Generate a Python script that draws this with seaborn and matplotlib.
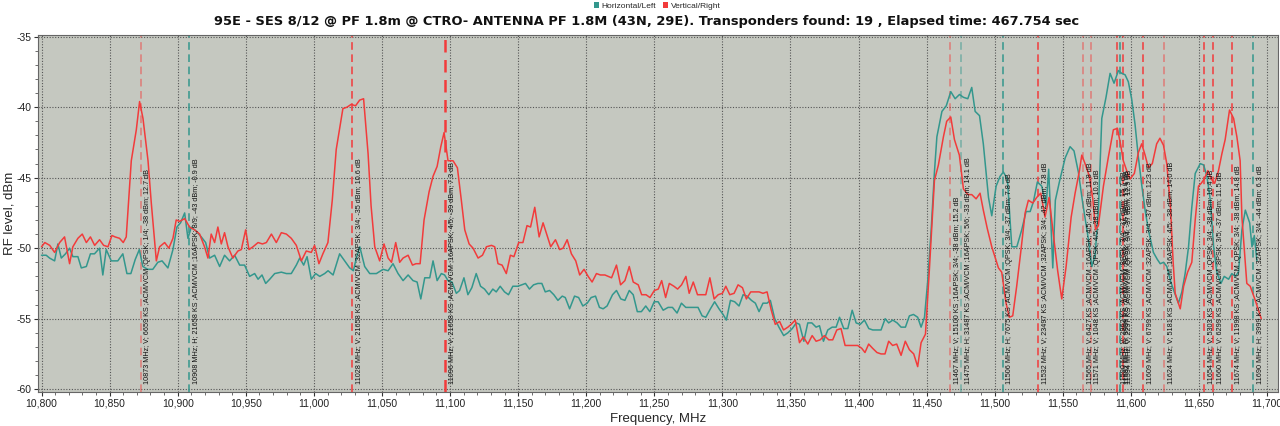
import numpy as np
import pandas as pd
import matplotlib
matplotlib.use("Agg")
import matplotlib.pyplot as plt
import seaborn as sns
from matplotlib.patches import Patch
from matplotlib.ticker import MultipleLocator, FuncFormatter

# Spektrum Vertical/Right (MHz, dBm)
freq_v = [10800, 10802.4, 10806, 10809.6, 10813.3, 10816.9, 10820.6, 10823, 10826.7, 10829.9,
          10832.9, 10835.9, 10839, 10842.6, 10845.6, 10848.8, 10851.7, 10854, 10857.3, 10860,
          10862.2, 10865.9, 10869.6, 10872, 10874.5, 10878.2, 10880.6, 10884.3, 10886.7, 10890.4,
          10893.5, 10896.5, 10898.9, 10901.4, 10905.1, 10908.7, 10912.4, 10916.1, 10919.7, 10922.2,
          10924.6, 10927.1, 10929.5, 10932, 10934.4, 10936.9, 10940.5, 10944.2, 10946.7, 10949.9,
          10952.3, 10955.3, 10959, 10962.2, 10965.1, 10968.8, 10972.4, 10976.1, 10979.8, 10983.4,
          10987.1, 10990.8, 10994.4, 10998.1, 11000.5, 11003.7, 11006.6, 11010.3, 11013.5, 11016.4,
          11021.3, 11024.3, 11027.4, 11030.6, 11033.6, 11036.5, 11039.8, 11042, 11044.7, 11048.3,
          11051.5, 11054.5, 11057, 11060.1, 11063, 11065.5, 11069.2, 11072.4, 11075, 11078,
          11080.9, 11084.6, 11087.5, 11090.5, 11093.2, 11095.6, 11098.5, 11102.2, 11105.4, 11108.4,
          11110.8, 11114, 11116.9, 11120.6, 11123.8, 11126.7, 11130.4, 11132.8, 11135.2, 11138.2,
          11141.3, 11144.3, 11146.9, 11150.4, 11153.5, 11156.5, 11159.1, 11162.2, 11165.4, 11168.3,
          11171.3, 11173.9, 11177.4, 11180.5, 11183, 11186, 11189.1, 11192.3, 11195.2, 11198.4,
          11201.4, 11204.3, 11207.5, 11210.4, 11213.7, 11218.6, 11222.2, 11225.2, 11228.4, 11231.6,
          11234.5, 11238.2, 11240.7, 11243.9, 11246.8, 11250, 11252.9, 11255.4, 11258.3, 11261,
          11264.4, 11267.1, 11270, 11273.2, 11275.6, 11278.6, 11281.7, 11284.7, 11287.8, 11290.8,
          11293.9, 11296.9, 11300, 11302.5, 11305.4, 11308.6, 11311.5, 11314.7, 11317.6, 11320.8,
          11323.7, 11326.9, 11329.8, 11332.8, 11335.9, 11338.8, 11342, 11344.9, 11348.1, 11350.5,
          11353.5, 11356.6, 11359.5, 11362.7, 11365.9, 11368.8, 11371.8, 11374.9, 11378.1, 11381,
          11384, 11387.1, 11390.1, 11393.2, 11396.4, 11399.3, 11402.3, 11404.7, 11407.4, 11410.3,
          11413.5, 11416.5, 11419.4, 11422.1, 11425, 11428, 11431.2, 11434.3, 11437.3, 11440.5,
          11443.4, 11445.9, 11449.1, 11452, 11455.7, 11458.6, 11462.3, 11464.7, 11467.7, 11470.4,
          11474, 11477, 11480.2, 11483.1, 11486.3, 11489.2, 11491.6, 11494.5, 11497.8, 11502.7,
          11505.1, 11508.3, 11510.7, 11513.2, 11516.1, 11519.3, 11522.3, 11524.7, 11527.9, 11530.8,
          11533.8, 11536.9, 11539.9, 11543, 11546.2, 11549.2, 11552.4, 11556.1, 11559, 11562.2,
          11563.9, 11566.3, 11569.5, 11572, 11574, 11576.1, 11579.8, 11583.5, 11587.1, 11590.1,
          11592.5, 11594.4, 11596.9, 11599.3, 11602.5, 11605.5, 11607.9, 11610.4, 11612.8, 11615.7,
          11618.9, 11621.3, 11623.9, 11626.3, 11629, 11631, 11632.5, 11636.2, 11638.7, 11641.6,
          11644.7, 11647.2, 11649.6, 11651.6, 11653.8, 11656.5, 11659, 11661.5, 11664.3, 11666.8,
          11669.2, 11672.4, 11675.4, 11677.8, 11680.2, 11681.5, 11685.1, 11687.6, 11691.3, 11693.7,
          11695.7]
level_v = [-49.9, -49.6, -49.8, -50.3, -49.6, -49.2, -51.1, -49.9, -49.3, -49.0,
           -49.6, -49.2, -49.8, -49.4, -49.8, -49.9, -49.1, -49.2, -49.3, -49.6,
           -49.2, -43.8, -41.6, -39.6, -40.8, -43.8, -46.8, -50.9, -49.9, -49.6,
           -50.0, -49.3, -48.0, -48.1, -47.9, -48.5, -48.7, -49.0, -49.9, -50.7,
           -49.0, -49.6, -48.5, -49.7, -48.9, -49.9, -50.7, -50.2, -50.1, -48.7,
           -50.1, -49.9, -49.6, -49.7, -49.6, -49.0, -49.6, -48.9, -49.0, -49.3,
           -49.8, -50.9, -50.2, -50.3, -49.8, -51.1, -50.4, -49.6, -46.6, -43.0,
           -40.1, -40.0, -39.8, -39.9, -39.5, -39.4, -43.3, -47.0, -49.9, -50.9,
           -49.7, -50.7, -51.0, -49.6, -51.0, -50.7, -50.5, -51.2, -51.1, -51.1,
           -48.0, -46.0, -44.9, -44.2, -42.8, -41.8, -43.8, -43.8, -44.3, -46.7,
           -48.7, -49.7, -50.0, -50.7, -50.5, -49.9, -49.8, -49.9, -51.1, -51.2,
           -51.8, -50.5, -50.6, -49.6, -49.6, -48.4, -48.5, -47.1, -49.2, -48.2,
           -49.1, -49.9, -49.4, -50.1, -50.0, -49.4, -50.4, -50.9, -51.9, -51.5,
           -52.0, -52.4, -51.8, -51.9, -51.9, -52.1, -51.2, -52.6, -52.3, -51.3,
           -52.4, -52.6, -53.3, -53.3, -53.5, -53.0, -52.9, -52.3, -53.5, -52.5,
           -52.7, -52.9, -52.6, -52.0, -53.2, -52.4, -53.3, -53.3, -53.3, -52.1,
           -53.6, -53.3, -53.2, -52.7, -53.3, -53.2, -52.6, -52.8, -53.6, -53.1,
           -53.1, -53.1, -53.2, -53.1, -54.4, -55.4, -55.2, -55.8, -55.6, -55.4,
           -55.1, -56.7, -56.3, -56.8, -56.2, -56.6, -56.5, -56.2, -56.5, -56.5,
           -55.8, -55.7, -56.9, -56.9, -56.9, -56.9, -57.1, -57.4, -56.8, -57.1,
           -57.4, -57.5, -57.5, -56.6, -56.9, -56.8, -57.6, -56.6, -57.2, -57.5,
           -58.4, -56.7, -56.1, -51.5, -45.2, -44.1, -42.1, -41.0, -40.7, -42.3,
           -43.4, -45.8, -46.2, -46.2, -46.5, -46.1, -47.3, -48.6, -49.9, -51.4,
           -51.7, -53.9, -54.9, -54.8, -52.7, -50.1, -47.5, -46.6, -46.8, -46.4,
           -46.1, -47.8, -46.4, -49.0, -51.6, -53.6, -51.3, -47.8, -46.1, -44.5,
           -43.4, -44.0, -44.9, -46.5, -48.7, -48.4, -45.6, -43.5, -41.6, -41.5,
           -42.7, -43.8, -44.5, -45.1, -44.7, -43.2, -42.6, -43.4, -44.3, -44.0,
           -42.6, -42.2, -42.7, -44.0, -47.0, -51.0, -53.2, -54.3, -52.7, -51.7,
           -51.0, -48.0, -45.6, -45.4, -45.1, -44.5, -45.1, -45.4, -44.5, -43.3,
           -42.3, -40.2, -40.8, -42.1, -43.8, -47.8, -52.5, -52.7, -53.7, -54.4,
           -55.0]

# Spektrum Horizontal/Left (MHz, dBm)
freq_h = [10800, 10803.4, 10805.9, 10809.6, 10812, 10814.5, 10817.6, 10820.6, 10823, 10826.7,
          10829.2, 10832.9, 10835.9, 10838.9, 10842.6, 10845, 10847.5, 10851.2, 10856, 10859.7,
          10862.7, 10865.6, 10868.8, 10871.8, 10874.4, 10878, 10881.7, 10885.4, 10888.5, 10892.8,
          10896.5, 10899.4, 10902.1, 10905.1, 10907.5, 10910, 10913.6, 10917.3, 10920.5, 10923.4,
          10927.1, 10930.8, 10934.4, 10938.1, 10941.8, 10945.5, 10949.1, 10952.8, 10956.5, 10959,
          10961.9, 10964.6, 10967.6, 10971.2, 10976.1, 10979.8, 10983.4, 10987.1, 10989.6, 10992.5,
          10995, 10998.1, 11001.3, 11004.3, 11007.9, 11010.4, 11014.1, 11018.9, 11022.6, 11026.3,
          11029, 11031.2, 11033.7, 11037.3, 11041, 11045.9, 11050.8, 11054.5, 11058.1, 11061.8,
          11065.5, 11069.2, 11072.8, 11075.8, 11078.5, 11081.4, 11085.1, 11087.5, 11090.5, 11093.6,
          11096, 11098.5, 11101.4, 11104.6, 11107, 11110.2, 11113.1, 11116, 11119.2, 11122.4,
          11125.3, 11128.5, 11131.4, 11133.9, 11136.8, 11140, 11142.9, 11146.1, 11149.8, 11152.7,
          11155.4, 11158.3, 11161.3, 11164.5, 11167.4, 11169.9, 11173.1, 11176.2, 11179.2, 11182.4,
          11184.6, 11187.8, 11191.4, 11194.4, 11197.5, 11200.7, 11203.6, 11206.8, 11209.7, 11212.4,
          11215.3, 11219.3, 11222.2, 11225.4, 11228.4, 11231.6, 11234.5, 11237.5, 11240.5, 11243.7,
          11246.7, 11249.9, 11252.8, 11256.5, 11260.1, 11263.3, 11266.7, 11269.9, 11273.1, 11276,
          11279.2, 11282.1, 11285.1, 11287.8, 11291.2, 11294.3, 11297.5, 11300.5, 11302.9, 11305.9,
          11309, 11312.2, 11315.2, 11318.1, 11321.3, 11324.2, 11326.9, 11329.8, 11332.8, 11335.2,
          11338.4, 11341.5, 11345, 11348.1, 11351.3, 11354.2, 11356.6, 11359.8, 11362.7, 11365.7,
          11368.8, 11371.3, 11374.2, 11377.4, 11380.6, 11383.5, 11386, 11389.1, 11392.1, 11395.3,
          11398.2, 11401.2, 11404.3, 11407.5, 11410.4, 11413.6, 11416.5, 11419.5, 11422.1, 11425.1,
          11428.3, 11431.2, 11434.4, 11437.3, 11440.3, 11443.4, 11445.9, 11448.4, 11450.8, 11453.3,
          11455.7, 11457.5, 11461.2, 11464.4, 11467.7, 11470.9, 11474.1, 11477, 11480.2, 11483.1,
          11485.6, 11488.8, 11491.6, 11495.4, 11497.8, 11501, 11503.9, 11506.3, 11509.3, 11512.5,
          11516.2, 11519.8, 11523, 11526, 11528.4, 11531.3, 11534.5, 11537.7, 11539.6, 11542.6,
          11544.5, 11547.7, 11551.7, 11555.3, 11558.2, 11561.4, 11564.6, 11568.8, 11571.3, 11573.7,
          11576.1, 11578.6, 11581.7, 11584.7, 11587.6, 11590.8, 11593.2, 11595.7, 11598.1, 11600.5,
          11603, 11605.4, 11607.9, 11610.4, 11612.8, 11616.5, 11619.4, 11621.5, 11624, 11626.4,
          11629.3, 11631.8, 11634.9, 11637.4, 11639.8, 11642.3, 11644.7, 11647.2, 11650.9, 11653.4,
          11655.8, 11658.3, 11660.7, 11663.1, 11666.1, 11668.5, 11671.7, 11674.1, 11676.6, 11679,
          11681.5, 11684, 11687.2, 11688.9, 11690.6, 11692.5]
level_h = [-50.5, -50.5, -50.7, -50.9, -49.7, -50.7, -50.4, -50.0, -50.6, -50.6,
           -51.4, -51.3, -50.4, -50.4, -50.0, -51.9, -50.1, -50.9, -50.9, -50.4,
           -51.8, -51.8, -50.8, -50.1, -51.3, -51.5, -51.5, -51.0, -50.9, -51.4,
           -50.1, -48.5, -48.2, -47.5, -49.3, -48.5, -48.8, -49.2, -49.6, -50.7,
           -50.5, -51.3, -50.5, -50.9, -50.5, -51.2, -51.2, -52.0, -51.8, -52.2,
           -51.9, -52.5, -52.2, -51.8, -51.7, -51.8, -51.8, -51.2, -50.7, -51.2,
           -50.6, -52.2, -51.8, -52.0, -51.8, -51.6, -51.9, -50.4, -50.9, -51.4,
           -51.6, -50.7, -49.9, -51.3, -51.8, -51.8, -51.5, -51.6, -51.1, -51.8,
           -52.3, -51.9, -52.3, -52.4, -53.6, -52.1, -52.1, -50.9, -52.3, -51.8,
           -51.9, -52.3, -52.4, -53.2, -53.0, -52.1, -53.3, -52.8, -51.8, -52.7,
           -52.9, -53.3, -52.9, -53.1, -52.7, -53.1, -53.3, -52.7, -52.7, -52.6,
           -52.5, -52.9, -52.6, -52.5, -52.5, -53.1, -53.0, -53.3, -53.7, -53.4,
           -53.5, -54.3, -53.4, -53.5, -54.1, -53.9, -53.5, -53.4, -54.2, -54.3,
           -54.1, -53.3, -53.0, -53.6, -53.7, -53.0, -53.3, -54.5, -54.5, -54.1,
           -54.5, -53.8, -53.8, -54.4, -54.2, -54.2, -54.6, -53.9, -54.2, -54.2,
           -54.2, -54.2, -54.8, -54.9, -54.3, -53.8, -54.3, -54.7, -55.1, -53.7,
           -53.8, -54.1, -53.3, -53.4, -53.7, -53.9, -54.5, -53.9, -53.9, -53.7,
           -55.0, -55.6, -56.2, -56.0, -55.7, -55.3, -55.4, -56.6, -55.3, -55.3,
           -55.6, -55.5, -56.6, -55.8, -55.6, -55.6, -54.9, -55.7, -55.7, -54.4,
           -55.3, -55.4, -55.1, -55.7, -55.8, -55.8, -55.8, -55.0, -55.3, -55.1,
           -55.3, -55.6, -55.6, -54.8, -54.7, -54.9, -55.6, -54.9, -52.3, -48.7,
           -44.6, -42.1, -40.3, -39.9, -38.9, -39.4, -39.1, -39.3, -39.4, -38.6,
           -40.3, -40.6, -42.6, -46.4, -47.7, -45.6, -44.9, -44.6, -45.1, -49.9,
           -49.9, -48.7, -47.4, -47.4, -46.7, -45.3, -45.6, -47.0, -44.4, -51.4,
           -46.6, -45.2, -43.6, -42.8, -43.1, -44.6, -46.8, -49.4, -51.3, -50.5,
           -47.3, -40.8, -39.3, -37.6, -38.3, -37.4, -37.6, -37.7, -38.2, -39.4,
           -41.2, -43.5, -45.5, -47.3, -48.7, -50.3, -50.8, -51.1, -51.0, -51.3,
           -52.4, -53.1, -53.9, -53.1, -51.8, -49.9, -47.1, -44.7, -44.0, -44.1,
           -44.9, -46.6, -49.9, -51.7, -52.5, -52.0, -52.2, -51.8, -52.0, -51.7,
           -48.7, -47.3, -48.2, -49.9, -49.1, -50.9]

# gefundene Transponder
tp_freq = [10873, 10908, 11028, 11096, 11467, 11475, 11506, 11532, 11565, 11571,
           11590, 11592, 11594, 11609, 11624, 11654, 11660, 11674, 11690]
tp_pol = ["V", "H", "V", "V", "V", "H", "H", "V", "V", "V",
          "V", "H", "V", "V", "V", "V", "V", "V", "H"]
tp_faint = [True, False, False, False, True, True, False, False, True, True,
            False, False, False, False, True, False, False, False, False]
tp_text = [
    "10873 MHz; V; 6659 KS ;ACM/VCM ;QPSK; 1/4; -38 dBm; 12.7 dB",
    "10908 MHz; H; 21658 KS ;ACM/VCM ;16APSK; 8/9; -43 dBm; -0.9 dB",
    "11028 MHz; V; 21658 KS ;ACM/VCM ;32APSK; 3/4; -35 dBm; 10.6 dB",
    "11096 MHz; V; 21658 KS ;ACM/VCM ;16APSK; 4/5; -39 dBm; 7.3 dB",
    "11467 MHz; V; 15100 KS ;16APSK; 3/4; -38 dBm; 15.2 dB",
    "11475 MHz; H; 31487 KS ;ACM/VCM ;16APSK; 5/6; -33 dBm; 14.1 dB",
    "11506 MHz; H; 7675 KS ;ACM/VCM ;QPSK; 3/4; -37 dBm; 7.8 dB",
    "11532 MHz; V; 23497 KS ;ACM/VCM ;32APSK; 3/4; -42 dBm; 7.8 dB",
    "11565 MHz; V; 6427 KS ;ACM/VCM ;16APSK; 4/5; -40 dBm; 11.8 dB",
    "11571 MHz; V; 1048 KS ;ACM/VCM ;QPSK; 4/5; -38 dBm; 10.9 dB",
    "11590 MHz; V; 2962 KS ;ACM/VCM ;8PSK; 3/4; -37 dBm; 15.7 dB",
    "11592 MHz; H; 3998 KS ;ACM/VCM ;8PSK; 2/3; -36 dBm; 13.4 dB",
    "11594 MHz; V; 2297 KS ;ACM/VCM ;QPSK; 3/4; -37 dBm; 12.9 dB",
    "11609 MHz; V; 6799 KS ;ACM/VCM ;32APSK; 3/4; -37 dBm; 12.3 dB",
    "11624 MHz; V; 5181 KS ;ACM/VCM ;16APSK; 4/5; -38 dBm; 14.0 dB",
    "11654 MHz; V; 5303 KS ;ACM/VCM ;QPSK; 3/4; -38 dBm; 10.4 dB",
    "11660 MHz; V; 6299 KS ;ACM/VCM ;8PSK; 3/5; -37 dBm; 11.5 dB",
    "11674 MHz; V; 11998 KS ;ACM/VCM ;QPSK; 3/4; -38 dBm; 14.8 dB",
    "11690 MHz; H; 3999 KS ;ACM/VCM ;32APSK; 3/4; -44 dBm; 6.3 dB",
]

title = ("95E - SES 8/12 @ PF 1.8m @ CTRO- ANTENNA PF 1.8M (43N, 29E). "
         "Transponders found: 19 , Elapsed time: 467.754 sec")

#%% Stil
teal = "#33978d"
red = "#f23b3b"
bg = "#c5c8c0"

sns.set_theme(style="ticks")
plt.rcParams["font.family"] = ["Liberation Sans", "DejaVu Sans"]
plt.rcParams["axes.unicode_minus"] = False

df = pd.concat([
    pd.DataFrame({"freq": freq_h, "level": level_h, "pol": "Horizontal/Left"}),
    pd.DataFrame({"freq": freq_v, "level": level_v, "pol": "Vertical/Right"}),
], ignore_index=True)

fig = plt.figure(figsize=(12.8, 4.26), dpi=100)
ax = fig.add_axes([38 / 1280, 1 - 392 / 426, 1240 / 1280, 357 / 426])
ax.set_facecolor(bg)

sns.lineplot(data=df, x="freq", y="level", hue="pol", hue_order=["Horizontal/Left", "Vertical/Right"],
             palette={"Horizontal/Left": teal, "Vertical/Right": red},
             estimator=None, sort=False, linewidth=1.1, legend=False, ax=ax)

# Transponder-Markierungen
for f, p, faint, txt in zip(tp_freq, tp_pol, tp_faint, tp_text):
    col = red if p == "V" else teal
    ax.axvline(f, color=col, linestyle=(0, (5, 3)), linewidth=1.1 if f != 11096 else 1.8,
               alpha=0.55 if faint else 1.0, zorder=1)
    ax.annotate(txt, xy=(f, -59.6), xytext=(2.2, 0), textcoords="offset points",
                rotation=90, ha="left", va="bottom", fontsize=5.2, color="#111111", zorder=5)

ax.set_xlim(10797.4, 11708)
ax.set_ylim(-60.2, -34.88)
ax.xaxis.set_major_locator(MultipleLocator(50))
ax.xaxis.set_minor_locator(MultipleLocator(10))
ax.yaxis.set_major_locator(MultipleLocator(5))
ax.yaxis.set_minor_locator(MultipleLocator(1))
ax.xaxis.set_major_formatter(FuncFormatter(lambda x, pos: f"{x:,.0f}"))
ax.yaxis.set_major_formatter(FuncFormatter(lambda y, pos: f"{y:.0f}"))
ax.tick_params(axis="both", which="major", direction="out", length=3, width=0.8,
               labelsize=7.5, colors="#333333", labelcolor="#222222", pad=2)
ax.tick_params(axis="both", which="minor", direction="out", length=2, width=0.6, colors="#555555")
ax.grid(True, which="major", color="#555555", linestyle=(0, (1, 1.5)), linewidth=0.8)
for s in ax.spines.values():
    s.set_color("#666666")
    s.set_linewidth(0.8)

ax.set_xlabel("Frequency, MHz", fontsize=9.5, labelpad=3)
ax.set_ylabel("RF level, dBm", fontsize=9.5)
ax.yaxis.set_label_coords(-0.0185, 0.5)

fig.text(647 / 1280, 1 - 22 / 426, title, ha="center", va="center",
         fontsize=9.4, fontweight="bold", color="#111111", family="DejaVu Sans")

handles = [Patch(facecolor=teal, edgecolor="none", label="Horizontal/Left"),
           Patch(facecolor=red, edgecolor="none", label="Vertical/Right")]
fig.legend(handles=handles, loc="upper center", bbox_to_anchor=(657 / 1280, 1.008), ncol=2,
           frameon=False, fontsize=6, handlelength=0.6, handleheight=0.6,
           handletextpad=0.3, columnspacing=0.9, borderpad=0.2)

fig.savefig("out.png", dpi=100)
